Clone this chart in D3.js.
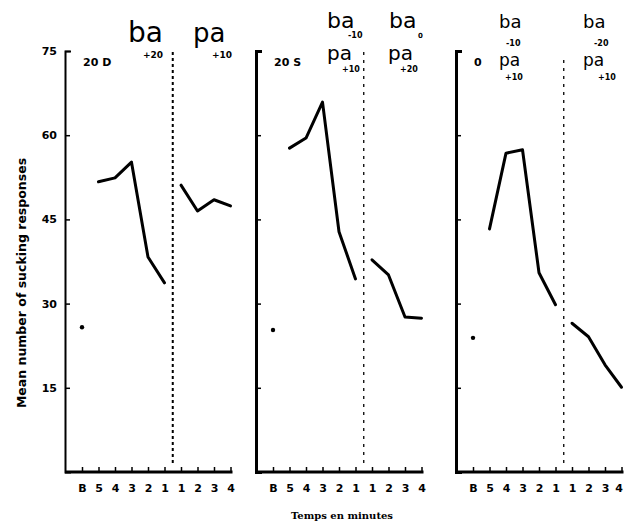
<!DOCTYPE html>
<html>
<head>
<meta charset="utf-8">
<script src="https://cdn.jsdelivr.net/npm/d3@7"></script>
<style>
  body { margin: 0; background: #fff; }
  svg { display: block; }
  .tick text { font-family: "DejaVu Sans", sans-serif; font-weight: bold; }
</style>
</head>
<body>
<svg id="chart" width="624" height="528"></svg>
<script>
// values
const xLabels = ["B", "5", "4", "3", "2", "1", "1", "2", "3", "4"];
const panelNames = ["20 D", "20 S", "0"];
const baseline = [25.8, 25.3, 23.9];
const before = [
  [51.7, 52.4, 55.2, 38.3, 33.7],
  [57.7, 59.5, 65.9, 42.8, 34.4],
  [43.3, 56.8, 57.4, 35.5, 29.8],
];
const after = [
  [51.1, 46.5, 48.5, 47.4],
  [37.8, 35.1, 27.6, 27.4],
  [26.5, 24.1, 19.1, 15.1],
];
const yTicks = [15, 30, 45, 60, 75];

const svg = d3.select("#chart");
const panelX = [65, 256, 456];
const yTop = 51, yBottom = 472;

// shared scales
const y = d3.scaleLinear().domain([0, 75]).range([yBottom, yTop]);
const x = d3.scaleLinear().domain([0, 9]).range([17, 165.5]);

const line = d3
  .line()
  .x((d) => x(d.i))
  .y((d) => y(d.v));

panelNames.forEach((name, p) => {
  const g = svg.append("g").attr("transform", `translate(${panelX[p]},0)`);

  // y axis, ticks pointing in
  const ya = g
    .append("g")
    .call(
      d3
        .axisLeft(y)
        .tickValues(yTicks)
        .tickSizeInner(-5)
        .tickSizeOuter(-6)
        .tickPadding(8)
        .tickFormat(p === 0 ? d3.format("d") : "")
    );
  ya.select(".domain").attr("stroke-width", p === 0 ? 2 : 3);
  ya.selectAll(".tick line").attr("stroke-width", 1.5);
  ya.selectAll(".tick text").attr("font-size", 11);

  // x axis
  const xa = g
    .append("g")
    .attr("transform", `translate(0,${yBottom})`)
    .call(
      d3
        .axisBottom(x)
        .tickValues(d3.range(10))
        .tickSize(-5)
        .tickPadding(12)
        .tickFormat((d) => xLabels[d])
    );
  xa.select(".domain").remove();
  xa.append("line")
    .attr("x1", 0)
    .attr("x2", x(9) + 2)
    .attr("stroke", "#000")
    .attr("stroke-width", 3);
  xa.selectAll(".tick line").attr("stroke-width", 1.5);
  xa.selectAll(".tick text").attr("font-size", 11);
  // last label of the right panel sits on the page edge
  if (p === 2) xa.selectAll(".tick text").filter((d) => d === 9).attr("dx", -3);

  // dotted divider between before and after
  g.append("line")
    .attr("x1", x(5.5))
    .attr("x2", x(5.5))
    .attr("y1", p === 2 ? 60 : 52)
    .attr("y2", yBottom - 8)
    .attr("stroke", "#000")
    .attr("stroke-width", p === 0 ? 2 : 1.3)
    .attr("stroke-dasharray", p === 0 ? "3,3" : "3,5");

  // baseline dot
  g.append("circle")
    .attr("cx", x(0))
    .attr("cy", y(baseline[p]))
    .attr("r", 2.2)
    .attr("fill", "#000");

  const pre = before[p].map((v, k) => ({ i: k + 1, v }));
  const post = after[p].map((v, k) => ({ i: k + 6, v }));
  [pre, post].forEach((seg) => {
    g.append("path")
      .datum(seg)
      .attr("d", line)
      .attr("fill", "none")
      .attr("stroke", "#000")
      .attr("stroke-width", 3)
      .attr("stroke-linejoin", "round")
      .attr("stroke-linecap", "round");
  });

  // panel name
  g.append("text")
    .attr("x", 18)
    .attr("y", 66)
    .attr("font-family", "DejaVu Sans, sans-serif")
    .attr("font-size", 11)
    .attr("font-weight", "bold")
    .text(name);
});

// handwritten condition notes
const notes = [
  // [text, x, y, size]
  ["ba", 128, 42, 28], ["+20", 143, 58, 9], ["pa", 193, 42, 26], ["+10", 212, 58, 9],
  ["ba", 327, 28, 22], ["-10", 348, 38, 8], ["pa", 327, 60, 20], ["+10", 342, 72, 8],
  ["ba", 389, 28, 22], ["0", 418, 38, 7], ["pa", 388, 60, 20], ["+20", 400, 72, 8],
  ["ba", 499, 28, 18], ["-10", 506, 46, 8], ["pa", 499, 66, 17], ["+10", 505, 80, 8],
  ["ba", 583, 28, 18], ["-20", 594, 46, 8], ["pa", 583, 66, 17], ["+10", 598, 80, 8],
];
svg
  .selectAll(".note")
  .data(notes)
  .join("text")
  .attr("class", "note")
  .attr("x", (d) => d[1])
  .attr("y", (d) => d[2])
  .attr("font-family", "DejaVu Sans, sans-serif")
  .attr("font-size", (d) => d[3])
  .attr("font-weight", (d) => (d[3] < 12 ? "bold" : "normal"))
  .text((d) => d[0]);

// axis titles
svg
  .append("text")
  .attr("transform", "translate(26,283) rotate(-90)")
  .attr("text-anchor", "middle")
  .attr("font-family", "DejaVu Sans, sans-serif")
  .attr("font-size", 12.5)
  .attr("font-weight", "bold")
  .text("Mean number of sucking responses");

svg
  .append("text")
  .attr("x", 342)
  .attr("y", 519)
  .attr("text-anchor", "middle")
  .attr("font-family", "DejaVu Serif, serif")
  .attr("font-size", 10)
  .attr("font-weight", "bold")
  .text("Temps en minutes");
</script>
</body>
</html>
